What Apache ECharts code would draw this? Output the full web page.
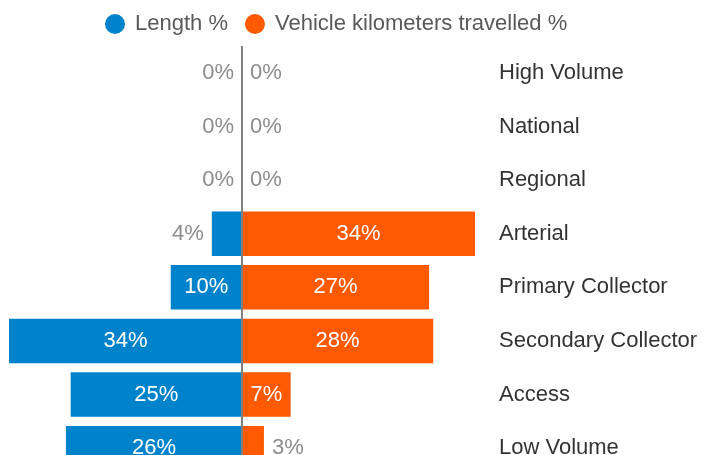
<!DOCTYPE html>
<html>
<head>
<meta charset="utf-8">
<script src="https://cdn.jsdelivr.net/npm/echarts@6/dist/echarts.min.js"></script>
<style>
html,body{margin:0;padding:0;overflow:hidden;background:#fff;}
#c{width:702px;height:500px;}
</style>
</head>
<body>
<div id="c"></div>
<script>
const categories = ["High Volume","National","Regional","Arterial","Primary Collector","Secondary Collector","Access","Low Volume"];
const lengthPct = [0,0,0,4.4,10.4,34,25,25.7];
const vktPct = [0,0,0,34,27.3,27.9,7.1,3.2];
const seriesNames = ["Length %","Vehicle kilometers travelled %"];
const insideThreshold = 7;

const FONT = "Liberation Sans, Arial, sans-serif";
const FS = 22;
function lab(v, side){
  const inside = Math.abs(v) >= insideThreshold;
  return inside
    ? {show:true, position:'inside', color:'#ffffff', fontSize:FS, fontFamily:FONT}
    : {show:true, position:side, distance:8, color:'#8c8c8c', fontSize:FS, fontFamily:FONT};
}
const fmt = p => Math.round(Math.abs(p.value)) + '%';

const chart = echarts.init(document.getElementById('c'), null, {renderer:'canvas'});
chart.setOption({
  animation:false,
  textStyle:{fontFamily:FONT},
  legend:{
    top:8, left:100, icon:'circle', itemWidth:20, itemHeight:20, itemGap:17,
    textStyle:{fontSize:FS, color:'#595959', fontFamily:FONT, padding:[0,0,0,5]},
    data:seriesNames
  },
  grid:{left:9, right:227, top:46, bottom:25, containLabel:false},
  xAxis:{type:'value', min:-34, max:34, show:false},
  yAxis:{
    type:'category', data:categories, inverse:true, position:'right',
    axisLine:{show:false}, axisTick:{show:false}, splitLine:{show:false},
    axisLabel:{align:'left', margin:24, fontSize:FS, color:'#333333', fontFamily:FONT}
  },
  series:[
    {
      name:seriesNames[0], type:'bar', stack:'s', barCategoryGap:'17%',
      itemStyle:{color:'#0083CB'},
      data:lengthPct.map(v=>({value:-v, label:lab(v,'left')})),
      label:{formatter:fmt},
      markLine:{
        silent:true, symbol:'none', label:{show:false},
        lineStyle:{color:'#808080', width:2, type:'solid'},
        data:[{xAxis:0}]
      }
    },
    {
      name:seriesNames[1], type:'bar', stack:'s', barCategoryGap:'17%',
      itemStyle:{color:'#FF5A00'},
      data:vktPct.map(v=>({value:v, label:lab(v,'right')})),
      label:{formatter:fmt}
    }
  ]
});
</script>
</body>
</html>
